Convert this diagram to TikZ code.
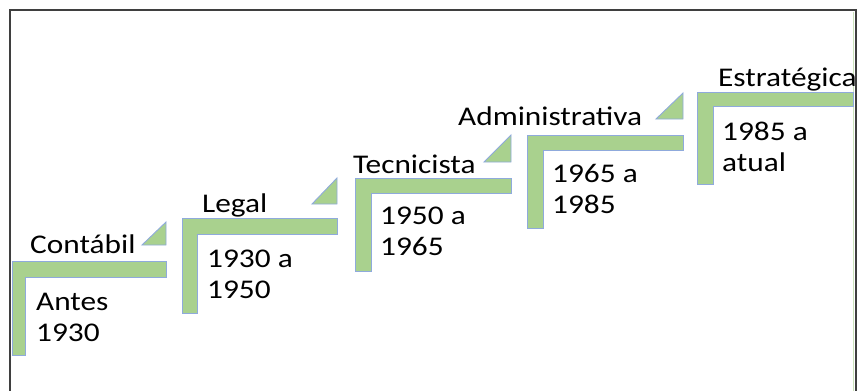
\documentclass[tikz,border=0pt]{standalone}
\usepackage{fontspec}
\setmainfont{Carlito}[FakeStretch=1.16]
\usetikzlibrary{positioning}
\definecolor{stepgreen}{HTML}{A9D18E}
\definecolor{stepblue}{HTML}{8FAADC}
\definecolor{framegray}{HTML}{3F3F3F}

\begin{document}
\begin{tikzpicture}[
    x=1pt, y=-1pt,
    every node/.style={font=\fontsize{27}{31}\selectfont, inner sep=0pt},
    stepbar/.style={fill=stepgreen, draw=stepblue, line width=0.9pt},
    steptitle/.style={anchor=base west},
    stepdate/.style={anchor=base west, align=left},
]
\useasboundingbox (0,0) rectangle (860,391);

% ===== Frame =====
\draw[framegray, line width=1.4pt] (10,391) -- (10,10) -- (856,10) -- (856,391);
\draw[stepgreen!60, line width=0.8pt] (853,12) -- (853,391);

% ===== Step 1: Contabil =====
\draw[stepbar] (12,261) -- (166,261) -- (166,277) -- (25,277) -- (25,355) -- (12,355) -- cycle;
\draw[stepbar] (142,245) -- (166,245) -- (166,222) -- cycle;
\node[steptitle] (contabil) at (30,253) {Contábil};
\node[stepdate] (d1) at (36,341) {Antes\\1930};

% ===== Step 2: Legal =====
\draw[stepbar] (182,218) -- (337,218) -- (337,234) -- (197,234) -- (197,313) -- (182,313) -- cycle;
\draw[stepbar] (312,204) -- (337,204) -- (337,178) -- cycle;
\node[steptitle] (legal) at (202,212) {Legal};
\node[stepdate] (d2) at (207,298) {1930 a\\1950};

% ===== Step 3: Tecnicista =====
\draw[stepbar] (355,178) -- (511,178) -- (511,193) -- (371,193) -- (371,271) -- (355,271) -- cycle;
\draw[stepbar] (484,162) -- (511,162) -- (511,135) -- cycle;
\node[steptitle] (tecnicista) at (353,173) {Tecnicista};
\node[stepdate] (d3) at (380,255) {1950 a\\1965};

% ===== Step 4: Administrativa =====
\draw[stepbar] (527,135) -- (683,135) -- (683,150) -- (543,150) -- (543,228) -- (527,228) -- cycle;
\draw[stepbar] (656,119) -- (683,119) -- (683,93) -- cycle;
\node[steptitle] (administrativa) at (458,125) {Administrativa};
\node[stepdate] (d4) at (552,213) {1965 a\\1985};

% ===== Step 5: Estrategica =====
\draw[stepbar] (697,92) -- (853,92) -- (853,106) -- (713,106) -- (713,184) -- (697,184) -- cycle;
\node[steptitle] (estrategica) at (718,86) {Estratégica};
\node[stepdate] (d5) at (722,171) {1985 a\\atual};

\end{tikzpicture}
\end{document}
